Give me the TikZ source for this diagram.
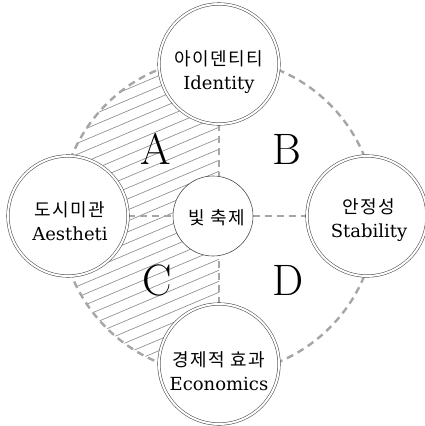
\documentclass[tikz,border=0pt]{standalone}
\usepackage{fontspec}
\newfontfamily\krfont[LetterSpace=8]{Noto Sans CJK KR}
\newfontfamily\latfont{DejaVu Serif}
\usetikzlibrary{calc,backgrounds}
\begin{document}
\begin{tikzpicture}[x=1pt,y=-1pt,
  sat/.style={circle, draw=black!70, line width=0.55pt, double=white, double distance=2pt, fill=white, minimum size=120pt, inner sep=0pt},
  hub/.style={circle, draw=black!70, line width=0.6pt, fill=white, minimum size=80pt, inner sep=0pt},
  dashline/.style={draw=black!35, line width=2.4pt, dash pattern=on 7pt off 5pt},
  hatchline/.style={draw=black!45, line width=0.65pt},
  txt/.style={align=center, inner sep=0pt, font=\fontsize{18}{24}\selectfont},
  quad/.style={inner sep=0pt, font=\fontsize{44}{44}\selectfont}
]
\useasboundingbox (0,0) rectangle (425,426);
\coordinate (C) at (218,216);
% nodes
\node[sat] (T) at (219,64) {};
\node[sat] (L) at (68,216) {};
\node[sat] (R) at (367,216) {};
\node[sat] (B) at (219,364) {};
\node[hub] (M) at (213,216) {};
\node[txt] (Tt) at (219,72) {{\krfont 아이덴티티}\\{\latfont Identity}};
\node[txt] (Lt) at (70,221) {{\krfont 도시미관}\\{\latfont Aestheti}};
\node[txt] (Mt) at (217,218) {\krfont 빛 축제};
\node[txt] (Rt) at (369,220) {{\krfont 안정성}\\{\latfont Stability}};
\node[txt] (Bt) at (219,371) {{\krfont 경제적 효과}\\{\latfont Economics}};
\node[quad] (qA) at (156,149) {A};
\node[quad] (qB) at (287,149) {B};
\node[quad] (qC) at (157,280) {C};
\node[quad] (qD) at (288,280) {D};
\begin{scope}[on background layer]
  \begin{scope}
    \clip (C) circle (158pt);
    \clip (0,0) rectangle (219,426);
    \foreach \c in {0,11,...,616} \draw[hatchline] (0,\c) -- (425,\c-180);
  \end{scope}
  \draw[dashline] (C) circle (158pt);
  \draw[dashline] (T.south) -- (T.south |- M.north);
  \draw[dashline] (B.north) -- (B.north |- M.south);
  \draw[dashline] (L) -- (M);
  \draw[dashline] (M) -- (R);
\end{scope}
\end{tikzpicture}
\end{document}
